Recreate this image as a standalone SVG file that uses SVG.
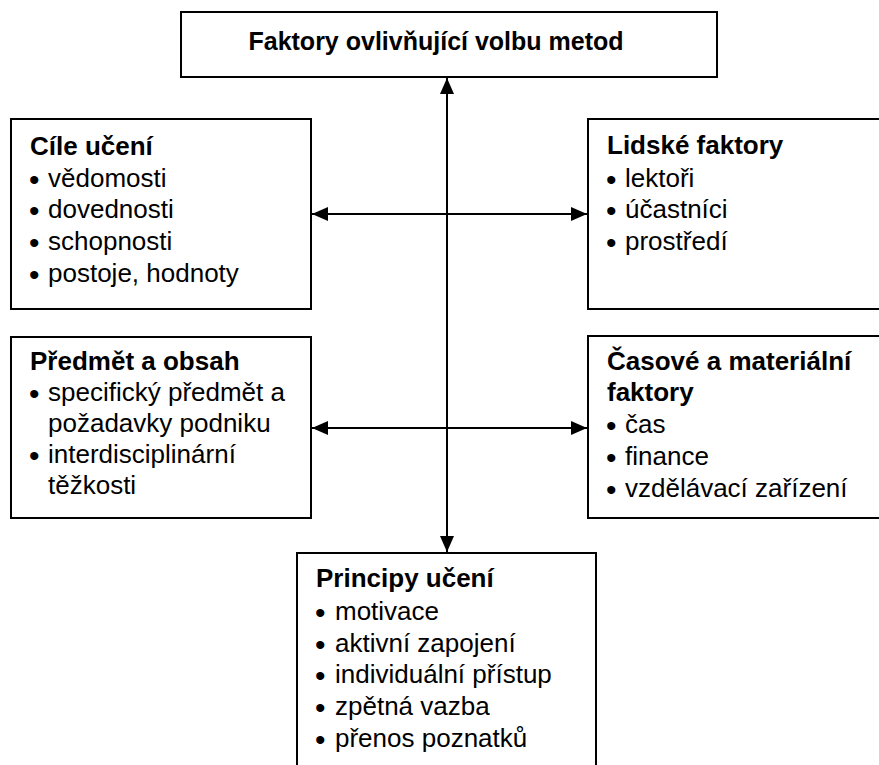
<svg xmlns="http://www.w3.org/2000/svg" width="879" height="765" viewBox="0 0 879 765">
<style>
.box{fill:#fff;stroke:#000;stroke-width:2}
.t{font-family:"Liberation Sans",Arial,sans-serif;font-size:26px;fill:#000}
.h{font-weight:bold}
.title{font-family:"Liberation Sans",Arial,sans-serif;font-size:25px;font-weight:bold;fill:#000}
.b{font-size:30px}
.c{stroke:#000;stroke-width:2;fill:none}
</style>
<defs>
<marker id="ah" viewBox="0 0 16 14" refX="16" refY="7" markerWidth="16" markerHeight="14" markerUnits="userSpaceOnUse" orient="auto-start-reverse">
<path d="M0,0 L16,7 L0,14 Z" fill="#000"/>
</marker>
</defs>
<rect width="879" height="765" fill="#fff"/>
<g id="connectors">
<line class="c" x1="447" y1="78" x2="447" y2="552" marker-start="url(#ah)" marker-end="url(#ah)"/>
<line class="c" x1="312" y1="214" x2="587" y2="214" marker-start="url(#ah)" marker-end="url(#ah)"/>
<line class="c" x1="312" y1="428" x2="587" y2="428" marker-start="url(#ah)" marker-end="url(#ah)"/>
</g>
<g id="title">
<rect class="box" x="181" y="12" width="536" height="65"/>
<text class="title" x="436" y="50" text-anchor="middle">Faktory ovlivňující volbu metod</text>
</g>
<g id="cile">
<rect class="box" x="11" y="119" width="300" height="190"/>
<text class="t h" x="30" y="155">Cíle učení</text>
<text class="t"><tspan class="b" x="29" y="190">•</tspan><tspan x="48" y="187">vědomosti</tspan></text>
<text class="t"><tspan class="b" x="29" y="221">•</tspan><tspan x="48" y="218">dovednosti</tspan></text>
<text class="t"><tspan class="b" x="29" y="253">•</tspan><tspan x="48" y="250">schopnosti</tspan></text>
<text class="t"><tspan class="b" x="29" y="285">•</tspan><tspan x="48" y="282">postoje, hodnoty</tspan></text>
</g>
<g id="lidske">
<rect class="box" x="588" y="119" width="310" height="190"/>
<text class="t h" x="607" y="154">Lidské faktory</text>
<text class="t"><tspan class="b" x="606" y="190">•</tspan><tspan x="625" y="187">lektoři</tspan></text>
<text class="t"><tspan class="b" x="606" y="221">•</tspan><tspan x="625" y="218">účastníci</tspan></text>
<text class="t"><tspan class="b" x="606" y="253">•</tspan><tspan x="625" y="250">prostředí</tspan></text>
</g>
<g id="predmet">
<rect class="box" x="11" y="337" width="300" height="181"/>
<text class="t h" x="30" y="370">Předmět a obsah</text>
<text class="t"><tspan class="b" x="29" y="404">•</tspan><tspan x="48" y="401">specifický předmět a</tspan></text>
<text class="t" x="48" y="432">požadavky podniku</text>
<text class="t"><tspan class="b" x="29" y="466">•</tspan><tspan x="48" y="463">interdisciplinární</tspan></text>
<text class="t" x="48" y="494">těžkosti</text>
</g>
<g id="casove">
<rect class="box" x="588" y="336" width="310" height="182"/>
<text class="t h" x="607" y="370">Časové a materiální</text>
<text class="t h" x="607" y="401">faktory</text>
<text class="t"><tspan class="b" x="606" y="436">•</tspan><tspan x="625" y="433">čas</tspan></text>
<text class="t"><tspan class="b" x="606" y="468">•</tspan><tspan x="625" y="465">finance</tspan></text>
<text class="t"><tspan class="b" x="606" y="500">•</tspan><tspan x="625" y="497">vzdělávací zařízení</tspan></text>
</g>
<g id="principy">
<rect class="box" x="297" y="553" width="299" height="230"/>
<text class="t h" x="316" y="587">Principy učení</text>
<text class="t"><tspan class="b" x="315" y="623">•</tspan><tspan x="335" y="620">motivace</tspan></text>
<text class="t"><tspan class="b" x="315" y="655">•</tspan><tspan x="335" y="652">aktivní zapojení</tspan></text>
<text class="t"><tspan class="b" x="315" y="686">•</tspan><tspan x="335" y="683">individuální přístup</tspan></text>
<text class="t"><tspan class="b" x="315" y="718">•</tspan><tspan x="335" y="715">zpětná vazba</tspan></text>
<text class="t"><tspan class="b" x="315" y="750">•</tspan><tspan x="335" y="747">přenos poznatků</tspan></text>
</g>
</svg>
